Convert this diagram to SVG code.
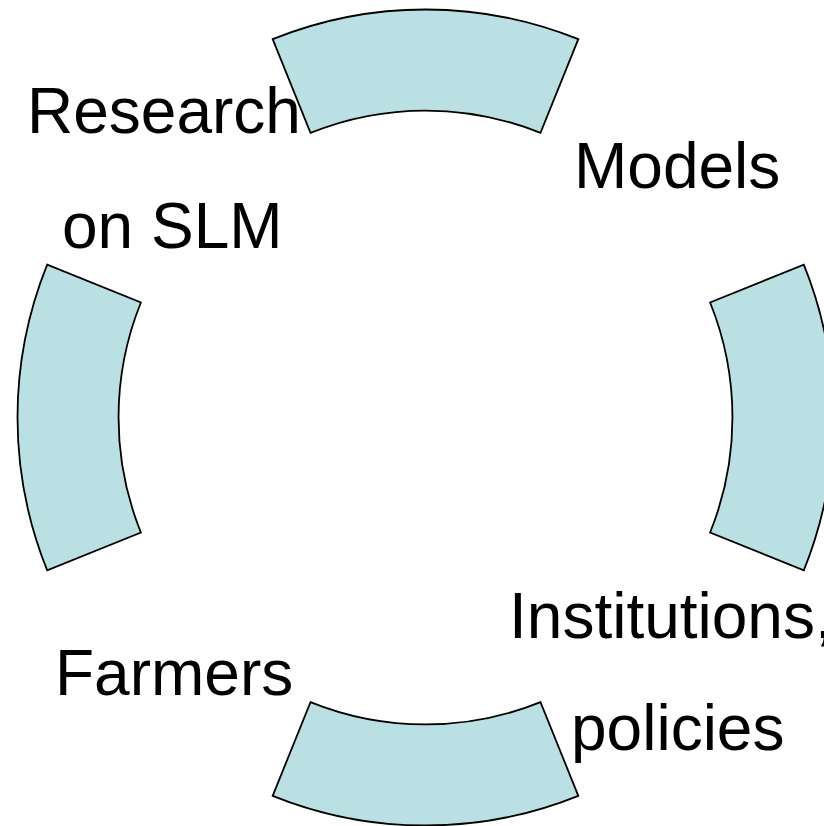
<svg xmlns="http://www.w3.org/2000/svg" width="824" height="826" viewBox="0 0 824 826">
<style>
.seg{fill:#BAE0E4;stroke:#000;stroke-width:1.8;stroke-linejoin:miter}
.lbl{font-family:"Liberation Sans",Arial,sans-serif;font-size:64px;fill:#000}
</style>
<rect width="824" height="826" fill="#fff"/>
<g id="seg-top"><path class="seg" d="M272.7,39.2 A408,408 0 0 1 578.3,39.2 L540.5,132.9 A307,307 0 0 0 310.5,132.9 Z"/></g>
<g id="seg-left"><path class="seg" d="M47.2,264.7 L140.9,302.5 A307,307 0 0 0 140.9,532.5 L47.2,570.3 A408,408 0 0 1 47.2,264.7 Z"/></g>
<g id="seg-right"><path class="seg" d="M803.8,264.7 A408,408 0 0 1 803.8,570.3 L710.1,532.5 A307,307 0 0 0 710.1,302.5 Z"/></g>
<g id="seg-bottom"><path class="seg" d="M310.5,702.1 A307,307 0 0 0 540.5,702.1 L578.3,795.8 A408,408 0 0 1 272.7,795.8 Z"/></g>
<g id="label-research"><text class="lbl" x="27" y="133">Research</text><text class="lbl" x="62" y="248">on SLM</text></g>
<g id="label-models"><text class="lbl" x="574" y="188">Models</text></g>
<g id="label-institutions"><text class="lbl" x="509" y="638">Institutions,</text><text class="lbl" x="571" y="750">policies</text></g>
<g id="label-farmers"><text class="lbl" x="55" y="695">Farmers</text></g>
<g id="connectors"></g>
</svg>
